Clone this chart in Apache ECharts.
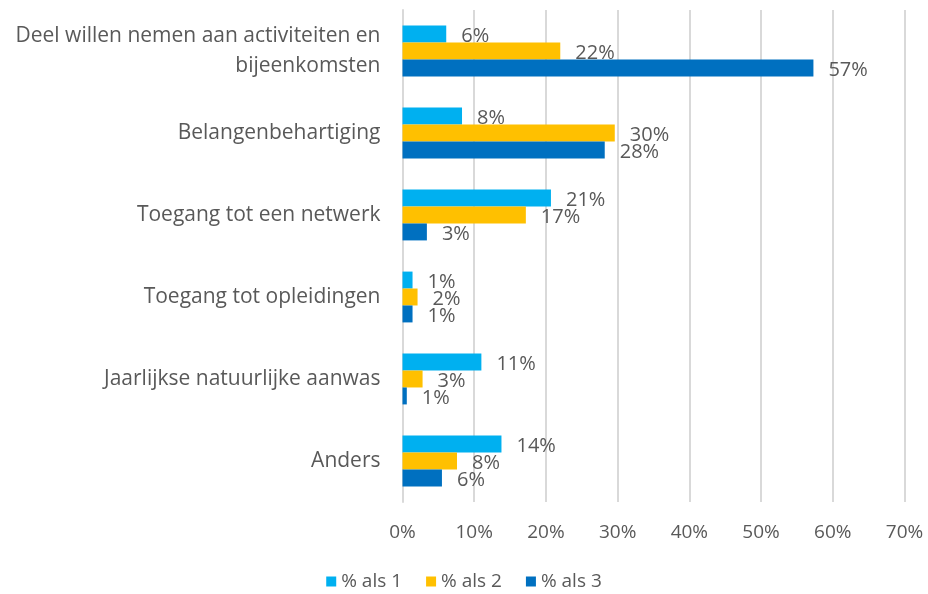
<!DOCTYPE html>
<html>
<head>
<meta charset="utf-8">
<script src="https://cdn.jsdelivr.net/npm/echarts@6/dist/echarts.min.js"></script>
<style>
  html, body { margin: 0; padding: 0; background: #fff; }
  #chart { width: 928px; height: 594px; }
</style>
</head>
<body>
<div id="chart"></div>
<script>
// categories, top to bottom as in the picture
const categories = [
  "Deel willen nemen aan activiteiten en\nbijeenkomsten",
  "Belangenbehartiging",
  "Toegang tot een netwerk",
  "Toegang tot opleidingen",
  "Jaarlijkse natuurlijke aanwas",
  "Anders"
];
const seriesNames = ["% als 1", "% als 2", "% als 3"];
const als1 = [6.1, 8.3, 20.7, 1.4, 11.0, 13.8];
const als2 = [22.0, 29.6, 17.2, 2.1, 2.8, 7.6];
const als3 = [57.3, 28.2, 3.4, 1.4, 0.6, 5.5];
const colors = ["#00B0F0", "#FFC000", "#0070C0"];
const xTicks = [0, 10, 20, 30, 40, 50, 60, 70];

const font = "Open Sans";
const textColor = "#595959";

const chart = echarts.init(document.getElementById("chart"));

function makeSeries(name, data, color) {
  return {
    name: name,
    type: "bar",
    data: data,
    barGap: "0%",
    barCategoryGap: "38%",
    itemStyle: { color: color },
    label: {
      show: true,
      position: "right",
      distance: 15,
      offset: [0, 2],
      color: textColor,
      fontFamily: font,
      fontSize: 20,
      formatter: p => Math.round(p.value) + "%"
    },
    animation: false
  };
}

chart.setOption({
  textStyle: { fontFamily: font },
  grid: { left: 402.5, right: 23.5, top: 10, bottom: 92 },
  legend: {
    bottom: -2,
    left: "center",
    itemWidth: 10,
    itemHeight: 10,
    itemGap: 24,
    icon: "rect",
    textStyle: { color: textColor, fontFamily: font, fontSize: 19 },
    data: seriesNames
  },
  xAxis: {
    type: "value",
    min: xTicks[0],
    max: xTicks[xTicks.length - 1],
    interval: 10,
    axisLine: { show: false },
    axisTick: { show: false },
    splitLine: { lineStyle: { color: "#D9D9D9", width: 2 } },
    axisLabel: {
      color: textColor,
      fontFamily: font,
      fontSize: 19,
      margin: 21,
      formatter: v => v + "%"
    }
  },
  yAxis: {
    type: "category",
    inverse: true,
    data: categories,
    axisLine: { show: true, lineStyle: { color: "#D9D9D9", width: 2 } },
    axisTick: { show: false },
    axisLabel: {
      color: textColor,
      fontFamily: font,
      fontSize: 21,
      margin: 22,
      align: "right",
      lineHeight: 30
    }
  },
  series: [
    makeSeries(seriesNames[0], als1, colors[0]),
    makeSeries(seriesNames[1], als2, colors[1]),
    makeSeries(seriesNames[2], als3, colors[2])
  ]
});
</script>
</body>
</html>
